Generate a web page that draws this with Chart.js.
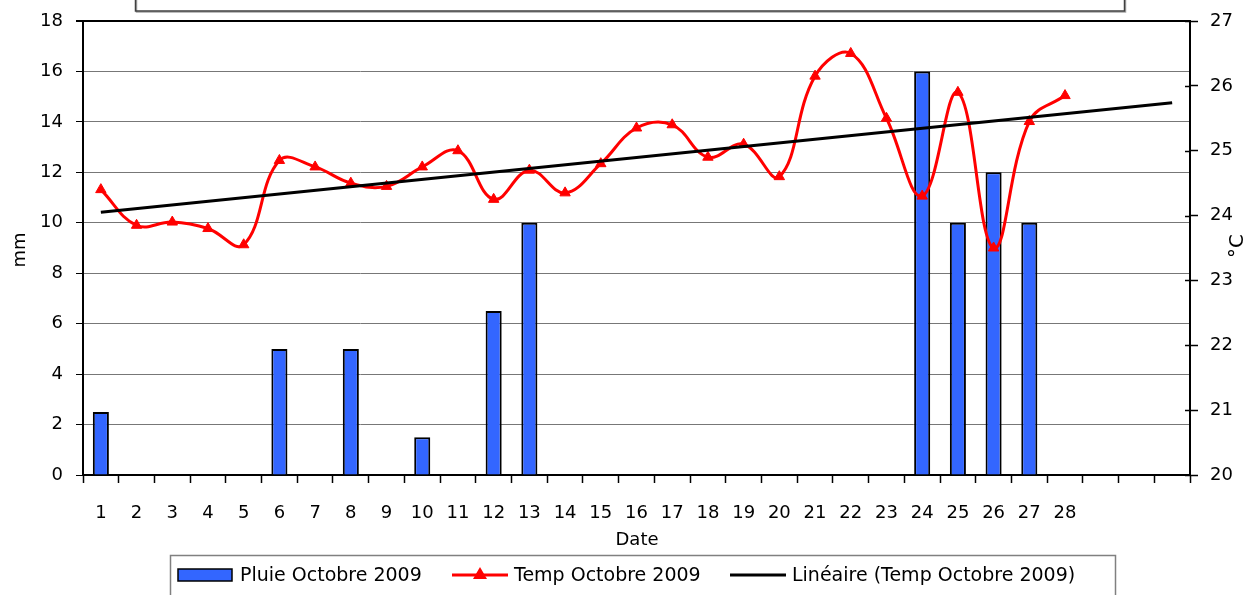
<!DOCTYPE html>
<html>
<head>
<meta charset="utf-8">
<script src="https://cdn.jsdelivr.net/npm/chart.js@4/dist/chart.umd.min.js"></script>
<style>
  html, body { margin: 0; padding: 0; background: #fff; }
  canvas { display: block; }
</style>
</head>
<body>
<canvas id="chart" width="1251" height="595"></canvas>
<script>
// Days of October 2009 (the axis keeps 3 blank slots after day 28)
const days = ['1', '2', '3', '4', '5', '6', '7', '8', '9', '10', '11', '12', '13', '14',
  '15', '16', '17', '18', '19', '20', '21', '22', '23', '24', '25', '26', '27', '28', '', '', ''];

// Rain in mm
const rain = [2.5, 0, 0, 0, 0, 5, 0, 5, 0, 1.5, 0, 6.5, 10, 0,
  0, 0, 0, 0, 0, 0, 0, 0, 0, 16, 10, 12, 10, 0];

// Temperature in °C
const temp = [24.4, 23.85, 23.9, 23.8, 23.55, 24.85, 24.75, 24.5, 24.45, 24.75, 25.0, 24.25, 24.7, 24.35,
  24.8, 25.35, 25.4, 24.9, 25.1, 24.6, 26.15, 26.5, 25.5, 24.3, 25.9, 23.5, 25.45, 25.85];

// Linear trend line ends (day 1 and last slot)
const trendEnds = [24.05, 25.74];

const mmTicks = [0, 2, 4, 6, 8, 10, 12, 14, 16, 18];
const degTicks = [20, 21, 22, 23, 24, 25, 26, 27];

const FONT = "'Comic Sans MS', 'DejaVu Sans', sans-serif";

// trend only has its two ends, the rest is bridged with spanGaps
const trend = days.map(() => null);
trend[0] = trendEnds[0];
trend[days.length - 1] = trendEnds[1];

// legend entries, with the x where each marker starts
const legendItems = [
  { label: 'Pluie Octobre 2009', kind: 'bar', color: '#3366FF', x: 178 },
  { label: 'Temp Octobre 2009', kind: 'tri', color: '#FF0000', x: 452 },
  { label: 'Linéaire (Temp Octobre 2009)', kind: 'line', color: '#000000', x: 730 },
];

const extras = {
  id: 'extras',
  afterDraw(chart) {
    const { ctx, chartArea: a, scales } = chart;
    ctx.save();

    // empty title frame cut off at the top
    ctx.shadowColor = 'rgba(0,0,0,0.35)';
    ctx.shadowOffsetX = 1;
    ctx.shadowOffsetY = 1;
    ctx.strokeStyle = '#404040';
    ctx.lineWidth = 1.5;
    ctx.strokeRect(135.5, -10, 989, 21);
    ctx.shadowColor = 'transparent';

    // right axis ticks also poke into the plot
    ctx.strokeStyle = '#000';
    ctx.lineWidth = 1.5;
    scales.y1.ticks.forEach((t, i) => {
      const y = Math.round(scales.y1.getPixelForTick(i)) + 0.5;
      ctx.beginPath();
      ctx.moveTo(a.right - 5, y);
      ctx.lineTo(a.right, y);
      ctx.stroke();
    });

    // axis titles
    ctx.fillStyle = '#000';
    ctx.font = '18px ' + FONT;
    ctx.textAlign = 'center';
    ctx.textBaseline = 'middle';
    ctx.fillText('Date', 637, 540);

    ctx.save();
    ctx.translate(20, 250);
    ctx.rotate(-Math.PI / 2);
    ctx.fillText('mm', 0, 0);
    ctx.restore();

    ctx.save();
    ctx.translate(1238, 246);
    ctx.rotate(-Math.PI / 2);
    ctx.font = '20px ' + FONT;
    ctx.fillText('°C', 0, 0);
    ctx.restore();

    // legend
    ctx.font = '19px ' + FONT;
    ctx.textAlign = 'left';
    const ly = 575;
    legendItems.forEach((it) => {
      const x = it.x;
      if (it.kind === 'bar') {
        ctx.fillStyle = it.color;
        ctx.fillRect(x, ly - 6, 54, 12);
        ctx.strokeStyle = '#000';
        ctx.lineWidth = 1.5;
        ctx.strokeRect(x, ly - 6, 54, 12);
      } else {
        ctx.strokeStyle = it.color;
        ctx.lineWidth = 3;
        ctx.beginPath();
        ctx.moveTo(x, ly);
        ctx.lineTo(x + 56, ly);
        ctx.stroke();
        if (it.kind === 'tri') {
          ctx.fillStyle = it.color;
          ctx.beginPath();
          ctx.moveTo(x + 28, ly - 8);
          ctx.lineTo(x + 35, ly + 4);
          ctx.lineTo(x + 21, ly + 4);
          ctx.closePath();
          ctx.fill();
        }
      }
      ctx.fillStyle = '#000';
      ctx.fillText(it.label, x + 62, ly + 1);
    });
    ctx.strokeStyle = '#808080';
    ctx.lineWidth = 1.5;
    ctx.strokeRect(170.5, 555.5, 945, 60);

    ctx.restore();
  },
};

new Chart(document.getElementById('chart'), {
  type: 'bar',
  data: {
    labels: days,
    datasets: [
      {
        type: 'line',
        label: 'Linéaire (Temp Octobre 2009)',
        data: trend,
        yAxisID: 'y1',
        borderColor: '#000',
        borderWidth: 3,
        pointRadius: 0,
        spanGaps: true,
        tension: 0,
        order: 1,
      },
      {
        type: 'line',
        label: 'Temp Octobre 2009',
        data: temp,
        yAxisID: 'y1',
        borderColor: '#FF0000',
        backgroundColor: '#FF0000',
        borderWidth: 3,
        pointStyle: 'triangle',
        pointRadius: 6,
        pointBorderWidth: 1,
        pointBackgroundColor: '#FF0000',
        pointBorderColor: '#FF0000',
        tension: 0.4,
        order: 2,
      },
      {
        label: 'Pluie Octobre 2009',
        data: rain,
        yAxisID: 'y',
        backgroundColor: '#3366FF',
        borderColor: '#000',
        borderWidth: 2,
        categoryPercentage: 1,
        barPercentage: 0.45,
        order: 3,
      },
    ],
  },
  options: {
    responsive: false,
    animation: false,
    layout: { padding: { top: 21, bottom: 40, left: 0, right: 0 } },
    plugins: {
      legend: { display: false },
      tooltip: { enabled: false },
      title: { display: false },
    },
    scales: {
      x: {
        offset: true,
        grid: { offset: true, drawOnChartArea: false, tickLength: 8, tickColor: '#000', tickWidth: 1.5 },
        border: { color: '#000', width: 2 },
        ticks: { autoSkip: false, maxRotation: 0, padding: 20, color: '#000', font: { family: FONT, size: 18 } },
        afterFit(s) { s.height = 80; },
      },
      y: {
        position: 'left',
        min: 0,
        max: 18,
        afterBuildTicks(s) { s.ticks = mmTicks.map((v) => ({ value: v })); },
        grid: {
          color: (c) => (c.tick && c.tick.value === 18 ? '#000' : '#777'),
          lineWidth: (c) => (c.tick && c.tick.value === 18 ? 2 : 1),
          tickColor: '#000',
          tickLength: 7,
        },
        border: { color: '#000', width: 2 },
        ticks: { padding: 13, color: '#000', font: { family: FONT, size: 18 } },
        afterFit(s) { s.width = 83; s.paddingTop = 0; s.paddingBottom = 0; },
      },
      y1: {
        position: 'right',
        min: 20,
        max: 27,
        afterBuildTicks(s) { s.ticks = degTicks.map((v) => ({ value: v })); },
        grid: { drawOnChartArea: false, tickColor: '#000', tickLength: 8, tickWidth: 1.5 },
        border: { color: '#000', width: 2 },
        ticks: { padding: 12, color: '#000', font: { family: FONT, size: 18 } },
        afterFit(s) { s.width = 61; s.paddingTop = 0; s.paddingBottom = 0; },
      },
    },
  },
  plugins: [extras],
});
</script>
</body>
</html>
